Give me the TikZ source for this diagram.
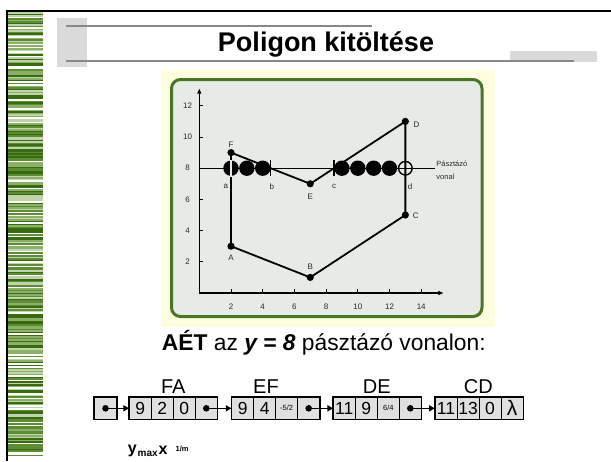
\documentclass[tikz,border=0pt]{standalone}
\usepackage{fontspec}
\setmainfont{Liberation Sans}
\usetikzlibrary{arrows.meta}

\definecolor{frameG}{RGB}{72,118,38}
\definecolor{innerG}{RGB}{231,235,229}
\definecolor{paleY}{RGB}{255,253,224}
\definecolor{boxG}{RGB}{224,224,224}
\definecolor{lineG}{RGB}{136,136,136}
\definecolor{rectG}{RGB}{218,218,218}
\definecolor{axisT}{RGB}{40,40,40}
\definecolor{sa}{RGB}{255,255,255}
\definecolor{sb}{RGB}{192,212,172}
\definecolor{sc}{RGB}{140,176,104}
\definecolor{sd}{RGB}{92,140,52}
\definecolor{se}{RGB}{56,106,16}

\tikzset{
  cell/.style={draw, line width=0.7pt, fill=boxG, minimum width=22pt, minimum height=22pt,
    inner sep=0pt, font=\fontsize{17.5}{18}\selectfont},
  rec/.style={draw, line width=1.6pt},
  lnk/.style={line width=1.3pt, -{Triangle[length=5.5pt,width=6pt]}},
  ldot/.style={circle, fill=black, inner sep=0pt, minimum size=6.6pt},
  plab/.style={font=\fontsize{8}{9}\selectfont, text=axisT, inner sep=0pt},
  lab/.style={font=\fontsize{20}{22}\selectfont, anchor=base},
  poly/.style={line width=1.8pt, line join=round},
}

\begin{document}
\begin{tikzpicture}[x=1pt,y=-1pt]
\useasboundingbox (0,0) rectangle (611,461);
\fill[white] (0,0) rectangle (611,461);

% left stripes
\pgfmathsetseed{23}
\foreach \i in {0,...,295}{
  \pgfmathtruncatemacro{\k}{random(1,11)}
  \ifcase\k\or\def\cc{sa}\or\def\cc{sa}\or\def\cc{sb}\or\def\cc{sb}\or\def\cc{sc}\or\def\cc{sc}\or\def\cc{sd}\or\def\cc{sd}\or\def\cc{se}\or\def\cc{se}\or\def\cc{se}\fi
  \fill[\cc] (8,{12+1.5*\i}) rectangle (43.3,{13.5+1.5*\i});
}

% frame
\draw[line width=2pt] (6.5,461) -- (6.5,11) -- (611,11);

% decorations
\fill[rectG] (57,18) rectangle (87,67);
\fill[rectG] (510,51) rectangle (597,62);
\draw[lineG, line width=2.2pt] (66,26) -- (372,26);
\draw[lineG, line width=2pt] (66,61) -- (574,61);

\node[font=\bfseries\fontsize{27}{30}\selectfont, anchor=base] (title) at (326,51) {Poligon kitöltése};

% figure background
\fill[paleY] (161,70) rectangle (495,327);
\draw[frameG, line width=3pt, fill=innerG, rounded corners=9pt] (171.5,79.5) rectangle (482,316.5);

\begin{scope}[shift={(199.3pt,-293pt)}, x=15.85pt, y=15.6pt]
  \coordinate (O) at (0,0);
  \coordinate (xe) at (15.4,0);
  \coordinate (ye) at (0,13.1);
  \draw[line width=1.1pt, -{Triangle[length=5pt,width=4pt]}] (O) -- (xe);
  \draw[line width=1.1pt, -{Triangle[length=5pt,width=4pt]}] (O) -- (ye);
  \foreach \v in {2,4,...,14}{
    \draw[line width=0.8pt] (\v,0) -- (\v,0.25);
    \node[plab] (xl\v) at (\v,-0.85) {\v};
  }
  \foreach \v in {2,4,...,12}{
    \draw[line width=0.8pt] (0,\v) -- (0.25,\v);
    \node[plab] (yl\v) at (-0.74,\v) {\v};
  }
  % scan line
  \coordinate (s0) at (0,8);
  \coordinate (s1) at (14.87,8);
  \draw[line width=0.9pt] (s0) -- (s1);
  \foreach \v in {2,3,4,9,10,11,12}{
    \fill (\v,8) circle[radius=7.7pt];
  }
  \draw[line width=1.4pt] (13,8) circle[radius=6.8pt];

  \coordinate (A) at (2,3);
  \coordinate (B) at (7,1);
  \coordinate (C) at (13,5);
  \coordinate (D) at (13,11);
  \coordinate (E) at (7,7);
  \coordinate (F) at (2,9);
  \draw[poly] (A) -- (B) -- (C) -- (D) -- (E) -- (F) -- cycle;
  \draw[white!82!gray, line width=1.6pt] (2,7.45) -- (2,8.55);
  \draw[line width=1.3pt] (4.5,7.5) -- (4.5,8.5);
  \draw[line width=1.3pt] (8.5,7.5) -- (8.5,8.5);
  \foreach \p in {A,B,C,D,E,F}{\fill (\p) circle[radius=3.6pt];}

  \node[plab] (lF) at (2,9.5) {F};
  \node[plab] (lA) at (2,2.25) {A};
  \node[plab] (lB) at (7,1.7) {B};
  \node[plab] (lE) at (7,6.2) {E};
  \node[plab] (lC) at (13.65,4.93) {C};
  \node[plab] (lD) at (13.7,10.8) {D};
  \node[plab] (la) at (1.68,6.83) {a};
  \node[plab] (lb) at (4.57,6.83) {b};
  \node[plab] (lc) at (8.5,6.83) {c};
  \node[plab] (ld) at (13.3,6.83) {d};
  \node[plab, anchor=west, align=left, font=\fontsize{7.5}{12.4}\selectfont] (pv) at (14.95,7.86) {Pásztázó\\vonal};
\end{scope}

\node[anchor=base west, font=\fontsize{22.8}{26}\selectfont, inner sep=0pt] (aet) at (161.7,350)
  {\textbf{AÉT} az \textbf{\textit{y = 8}} pásztázó vonalon:};

% linked list
\node[cell, minimum width=22.4pt] (h) at (105.5,408.3) {};
\node[ldot] (hd) at (h.center) {};

% FA
\node[cell] (a1) at (140.3,408.3) {9};
\node[cell] (a2) at (162.3,408.3) {2};
\node[cell] (a3) at (184.3,408.3) {0};
\node[cell] (a4) at (206.3,408.3) {};
\node[ldot] (ad) at (a4.center) {};
% EF
\node[cell] (b1) at (242.7,408.3) {9};
\node[cell] (b2) at (264.7,408.3) {4};
\node[cell, font=\fontsize{7.5}{8}\selectfont] (b3) at (286.7,408.3) {-5/2};
\node[cell] (b4) at (308.7,408.3) {};
\node[ldot] (bd) at (b4.center) {};
% DE
\node[cell] (c1) at (344.3,408.3) {11};
\node[cell] (c2) at (366.3,408.3) {9};
\node[cell, font=\fontsize{7.5}{8}\selectfont] (c3) at (388.3,408.3) {6/4};
\node[cell] (c4) at (410.3,408.3) {};
\node[ldot] (cd) at (c4.center) {};
% CD
\node[cell] (d1) at (446,408.3) {11};
\node[cell] (d2) at (468,408.3) {13};
\node[cell] (d3) at (490,408.3) {0};
\node[cell, font=\fontsize{21}{21}\selectfont] (d4) at (512,408.3) {λ};

\draw[rec] (h.north west) rectangle (h.south east);
\draw[rec] (a1.north west) rectangle (a4.south east);
\draw[rec] (b1.north west) rectangle (b4.south east);
\draw[rec] (c1.north west) rectangle (c4.south east);
\draw[rec] (d1.north west) rectangle (d4.south east);

\draw[lnk] (hd.center) -- (a1.west);
\draw[lnk] (ad.center) -- (b1.west);
\draw[lnk] (bd.center) -- (c1.west);
\draw[lnk] (cd.center) -- (d1.west);

\node[lab] (nFA) at (173.3,393) {FA};
\node[lab] (nEF) at (266,393) {EF};
\node[lab] (nDE) at (376.7,393) {DE};
\node[lab] (nCD) at (478.3,393) {CD};

\node[anchor=base west, inner sep=0pt, font=\bfseries\fontsize{16}{16}\selectfont] (ym) at (127.7,453.5) {y};
\node[anchor=base west, inner sep=0pt, font=\bfseries\fontsize{10}{10}\selectfont] (mx) at (137.5,456) {max};
\node[anchor=base west, inner sep=0pt, font=\bfseries\fontsize{16}{16}\selectfont] (xx) at (158.5,454) {x};
\node[anchor=base west, inner sep=0pt, font=\bfseries\fontsize{7.5}{8}\selectfont] (om) at (175.5,451) {1/m};
\end{tikzpicture}
\end{document}
